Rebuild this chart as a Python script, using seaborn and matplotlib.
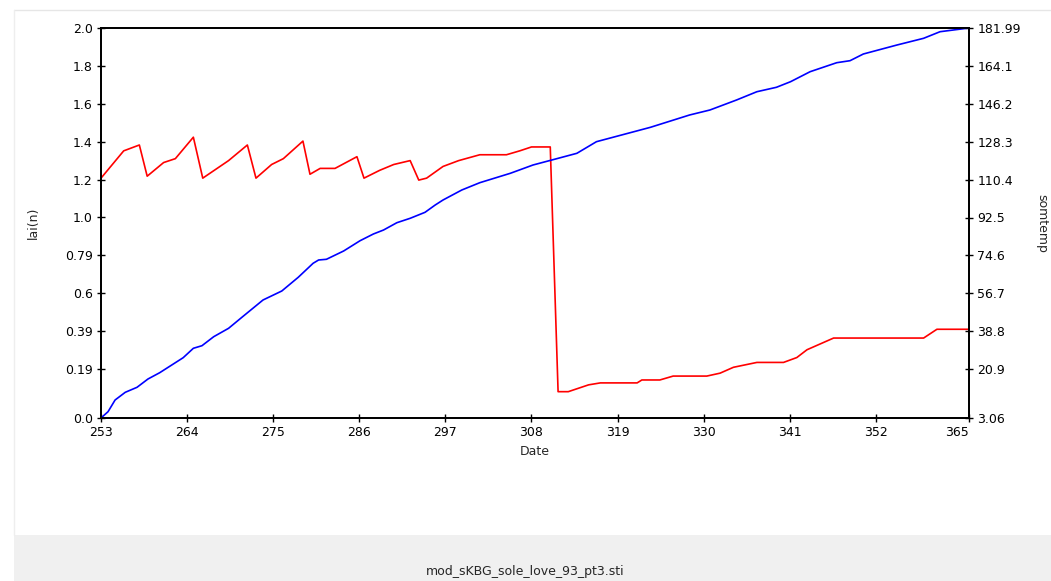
import numpy as np
import matplotlib
matplotlib.use("Agg")
import matplotlib.pyplot as plt
import matplotlib.patches as mpatches
import seaborn as sns

# data
lai_day = [253.0, 255.9, 257.9, 258.9, 261.0, 262.5, 264.8, 266.0, 269.3, 271.7,
           272.8, 274.8, 276.3, 278.8, 279.7, 281.0, 282.9, 285.7, 286.6, 288.6,
           290.4, 292.5, 293.6, 294.6, 296.7, 298.7, 301.4, 304.8, 306.5, 308.0,
           310.4, 311.4, 312.7, 315.3, 316.8, 321.5, 322.1, 324.4, 326.1, 330.4,
           332.1, 333.8, 336.8, 340.2, 341.9, 343.2, 346.6, 358.1, 359.8, 363.9]
lai_val = [1.23, 1.37, 1.40, 1.24, 1.31, 1.33, 1.44, 1.23, 1.32, 1.40,
           1.23, 1.30, 1.33, 1.42, 1.25, 1.28, 1.28, 1.34, 1.23, 1.27,
           1.30, 1.32, 1.22, 1.23, 1.29, 1.32, 1.35, 1.35, 1.37, 1.39,
           1.39, 0.135, 0.135, 0.17, 0.18, 0.18, 0.195, 0.195, 0.215, 0.215,
           0.23, 0.26, 0.285, 0.285, 0.31, 0.35, 0.41, 0.41, 0.455, 0.455]

som_day = [253.0, 253.9, 254.8, 256.1, 257.6, 259.0, 260.5, 263.5, 264.8, 265.9,
           267.4, 269.3, 271.0, 273.7, 276.1, 278.2, 280.1, 280.8, 281.8, 284.0,
           286.1, 287.8, 289.1, 290.8, 292.5, 294.4, 295.7, 296.7, 299.1, 301.4,
           305.3, 308.2, 310.6, 313.8, 316.3, 323.2, 328.2, 330.8, 334.2, 336.8,
           339.3, 341.1, 343.6, 347.0, 348.7, 350.4, 354.7, 358.1, 360.2, 363.9]
som_val = [3.06, 5.95, 11.32, 14.85, 17.14, 20.95, 23.84, 30.73, 35.04, 36.23,
           40.36, 44.21, 49.26, 57.20, 61.33, 67.61, 74.04, 75.55, 75.87, 79.68,
           84.40, 87.48, 89.31, 92.66, 94.68, 97.43, 100.78, 103.08, 107.67, 111.02,
           115.33, 119.14, 121.43, 124.50, 129.83, 136.43, 142.08, 144.37, 148.96, 152.76,
           154.79, 157.35, 161.94, 166.07, 166.99, 170.06, 174.19, 177.26, 180.29, 181.99]

x_ticks = [253, 264, 275, 286, 297, 308, 319, 330, 341, 352, 363.9]
x_labels = ["253", "264", "275", "286", "297", "308", "319", "330", "341", "352", "365"]
lai_labels = ["2.0", "1.8", "1.6", "1.4", "1.2", "1.0", "0.79", "0.6", "0.39", "0.19", "0.0"]
som_labels = ["181.99", "164.1", "146.2", "128.3", "110.4", "92.5", "74.6", "56.7", "38.8", "20.9", "3.06"]

sns.set_style("white")
plt.rcParams["font.family"] = ["DejaVu Sans"]
plt.rcParams["font.size"] = 9

fig = plt.figure(figsize=(10.51, 5.81), dpi=100)

# window decoration: white panel with grey status strip below
fig.add_artist(mpatches.Rectangle((14 / 1051, 0), 1 - 14 / 1051, 46 / 581,
                                  transform=fig.transFigure, color="#f0f0f0", lw=0))
fig.add_artist(plt.Line2D([14 / 1051, 1], [1 - 10 / 581, 1 - 10 / 581],
                          transform=fig.transFigure, color="#e6e6e6", lw=1))
fig.add_artist(plt.Line2D([14 / 1051, 14 / 1051], [46 / 581, 1 - 10 / 581],
                          transform=fig.transFigure, color="#eeeeee", lw=1))
fig.text(0.5, 1 - 571 / 581, "mod_sKBG_sole_love_93_pt3.sti", ha="center", va="center", fontsize=9)

ax = fig.add_axes([101 / 1051, 1 - 418 / 581, 868 / 1051, 390 / 581])
ax2 = ax.twinx()

sns.lineplot(x=lai_day, y=lai_val, ax=ax, color="#ff0000", lw=1.2)
sns.lineplot(x=som_day, y=som_val, ax=ax2, color="#0000ff", lw=1.2)

ax.set_xlim(253, 363.9)
ax.set_ylim(0, 2.0)
ax2.set_ylim(3.06, 181.99)

# evenly spaced ticks from the top, last one at the axis bottom
step = 37.9 / 390
lai_ticks = list(2.0 - 2.0 * step * np.arange(10)) + [0.0]
som_ticks = list(181.99 - 178.93 * step * np.arange(10)) + [3.06]

ax.set_xticks(x_ticks)
ax.set_xticklabels(x_labels)
ax.get_xticklabels()[-1].set_ha("right")
ax.set_yticks(lai_ticks)
ax.set_yticklabels(lai_labels)
ax2.set_yticks(som_ticks)
ax2.set_yticklabels(som_labels)

for a in (ax, ax2):
    for s in a.spines.values():
        s.set_color("black")
        s.set_linewidth(1.3)
ax.tick_params(axis="both", direction="inout", length=6, width=1, colors="black",
               labelsize=9, pad=3, left=True, bottom=True)
ax2.tick_params(axis="y", direction="inout", length=6, width=1, colors="black",
                labelsize=9, pad=3, right=True)

ax.set_xlabel("Date", fontsize=9, labelpad=4)
ax.set_ylabel("lai(n)", fontsize=9, labelpad=18)
ax2.set_ylabel("somtemp", fontsize=9, rotation=270, labelpad=20)

fig.savefig("out.png", dpi=100)
